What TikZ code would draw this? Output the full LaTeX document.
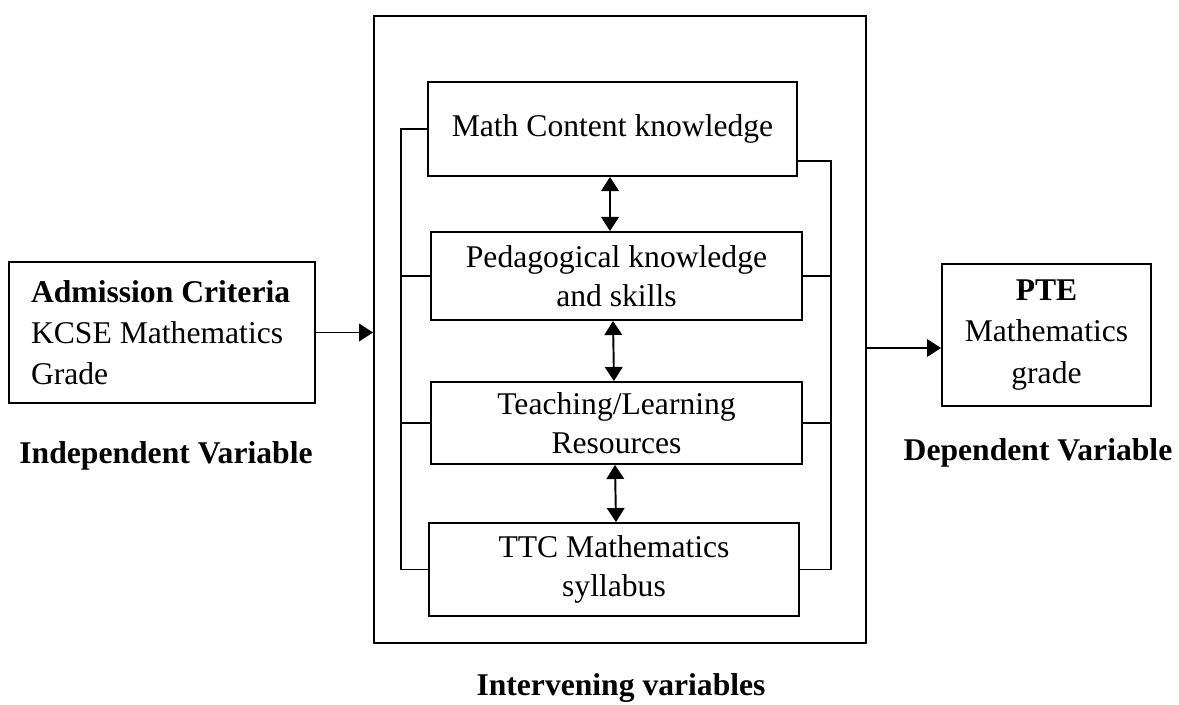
\documentclass[tikz,border=0pt]{standalone}
\usepackage{fontspec}
\setmainfont{Liberation Serif}
\usetikzlibrary{arrows.meta}

\begin{document}
\begin{tikzpicture}[x=0.02cm, y=-0.02cm, line width=1.1pt,
  >={Triangle[length=8pt,width=10pt]},
  varbox/.style={draw, inner sep=0pt, align=center, font=\fontsize{18}{22}\selectfont},
  sidebox/.style={draw, inner sep=0pt, font=\fontsize{18}{23.4}\selectfont},
  headtxt/.style={anchor=base, font=\fontsize{18}{22}\selectfont\bfseries}]
\useasboundingbox (0,0) rectangle (1179,704);

\node[draw, minimum width=9.84cm, minimum height=12.54cm] (outer) at (620,329.5) {};

\node[varbox, minimum width=7.38cm, minimum height=1.88cm] (math) at (612.5,129) {Math Content knowledge};
\node[varbox, minimum width=7.42cm, minimum height=1.76cm] (ped) at (616.5,276) {Pedagogical knowledge\\and skills};
\node[varbox, minimum width=7.42cm, minimum height=1.64cm] (teach) at (616.5,423) {Teaching/Learning\\Resources};
\node[varbox, minimum width=7.4cm, minimum height=1.86cm] (ttc) at (614,569.5) {TTC Mathematics\\syllabus};

\node[sidebox, align=flush left, text width=5.24cm, minimum width=6.12cm, minimum height=2.82cm] (adm) at (162,332.5) {\textbf{Admission Criteria}\\KCSE Mathematics\\Grade};
\node[sidebox, align=center, minimum width=4.18cm, minimum height=2.84cm] (pte) at (1046.5,335) {\textbf{PTE}\\Mathematics\\grade};

\node[headtxt] (indep) at (166,463) {Independent Variable};
\node[headtxt] (dep) at (1038,460) {Dependent Variable};
\node[headtxt] (interv) at (621,695) {Intervening variables};

% brackets round the inner boxes
\coordinate (lbar) at (401,0);
\coordinate (rbar) at (831,0);
\coordinate (rtop) at (831,161);
\draw (math.west) -| (lbar |- ttc.west) -- (ttc.west);
\draw (ped.west) -- (lbar |- ped.west);
\draw (teach.west) -- (lbar |- teach.west);
\draw (math.east |- rtop) -- (rtop) -- (rbar |- ttc.east) -- (ttc.east);
\draw (ped.east) -- (rbar |- ped.east);
\draw (teach.east) -- (rbar |- teach.east);

\draw[<->] ([xshift=-0.05cm]math.south) -- ([xshift=-0.13cm]ped.north);
\draw[<->] ([xshift=-0.07cm]ped.south) -- ([xshift=-0.05cm]teach.north);
\draw[<->] ([xshift=-0.03cm]teach.south) -- ([xshift=0.04cm]ttc.north);

\coordinate (pin) at (942,348);
\draw[->] (adm.east) -- (adm.east -| outer.west);
\draw[->] (outer.east |- pin) -- (pte.west |- pin);
\end{tikzpicture}
\end{document}
